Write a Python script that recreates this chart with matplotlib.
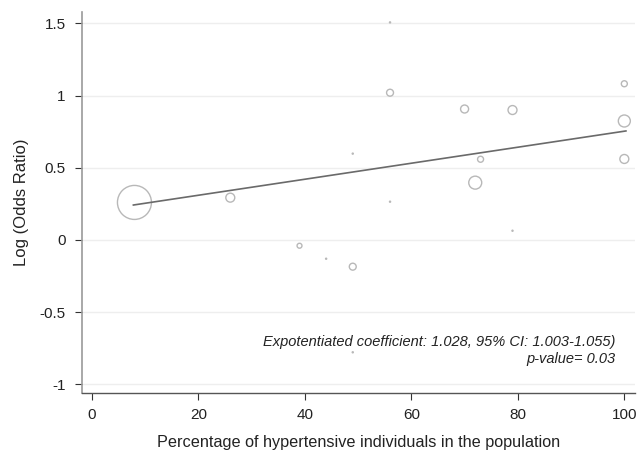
import matplotlib
matplotlib.use("Agg")
import matplotlib.pyplot as plt
import numpy as np

# Data
pct_hypertensive = [8, 26, 39, 44, 49, 49, 49, 56, 56, 56, 70, 72, 73, 79, 79, 100, 100, 100]
log_or = [0.26, 0.293, -0.04, -0.13, 0.598, -0.185, -0.778, 1.507, 1.02, 0.265,
          0.907, 0.397, 0.559, 0.90, 0.064, 1.082, 0.824, 0.561]
weights = [289, 20, 6, 0.3, 0.3, 12, 0.3, 0.3, 12, 0.3, 16, 42, 9, 20, 0.3, 9, 36, 20]
fit_x = [7.8, 100.3]
fit_y = [0.242, 0.755]
xticks = [0, 20, 40, 60, 80, 100]
yticks = [-1, -0.5, 0, 0.5, 1, 1.5]
ytick_labels = ["-1", "-0.5", "0", "0.5", "1", "1.5"]

plt.rcParams['font.family'] = ['Liberation Sans', 'DejaVu Sans']

fig = plt.figure(figsize=(6.39, 4.51), dpi=100)
ax = fig.add_axes([0.1279, 0.1286, 0.8658, 0.8448])

# bubble sizes: weight ~ radius^2 in px; s in pt^2
s = [(1.44 ** 2) * w for w in weights]
ax.scatter(pct_hypertensive, log_or, s=s, facecolors='none', edgecolors='#b8b8b8',
           linewidths=1.0, zorder=3)
ax.plot(fit_x, fit_y, color='#6a6a6a', lw=1.2, zorder=4)

ax.set_xlim(-1.9, 102.0)
ax.set_ylim(-1.06, 1.579)
ax.set_xticks(xticks)
ax.set_yticks(yticks)
ax.set_yticklabels(ytick_labels)
ax.grid(axis='y', color='#eeeeee', lw=1.0)
ax.set_axisbelow(True)
for side in ['top', 'right']:
    ax.spines[side].set_visible(False)
ax.spines['left'].set_color('#9a9a9a')
ax.spines['left'].set_linewidth(1.2)
ax.spines['bottom'].set_color('#555555')
ax.spines['bottom'].set_linewidth(1.0)
ax.tick_params(axis='both', direction='out', length=5, width=0.8, color='#333333',
               labelsize=11, labelcolor='#222222')
ax.tick_params(axis='y', pad=6.5)
ax.tick_params(axis='x', pad=6)

ax.set_xlabel("Percentage of hypertensive individuals in the population", fontsize=11.7,
              color='#222222', labelpad=9)
ax.set_ylabel("Log (Odds Ratio)", fontsize=12, color='#222222', labelpad=8)

ax.text(0.964, 0.135, "Expotentiated coefficient: 1.028, 95% CI: 1.003-1.055)",
        transform=ax.transAxes, ha='right', va='center', style='italic', fontsize=10.5,
        color='#222222')
ax.text(0.964, 0.088, "p-value= 0.03", transform=ax.transAxes, ha='right', va='center',
        style='italic', fontsize=10.5, color='#222222')

fig.savefig("out.png", dpi=100, facecolor='white')
